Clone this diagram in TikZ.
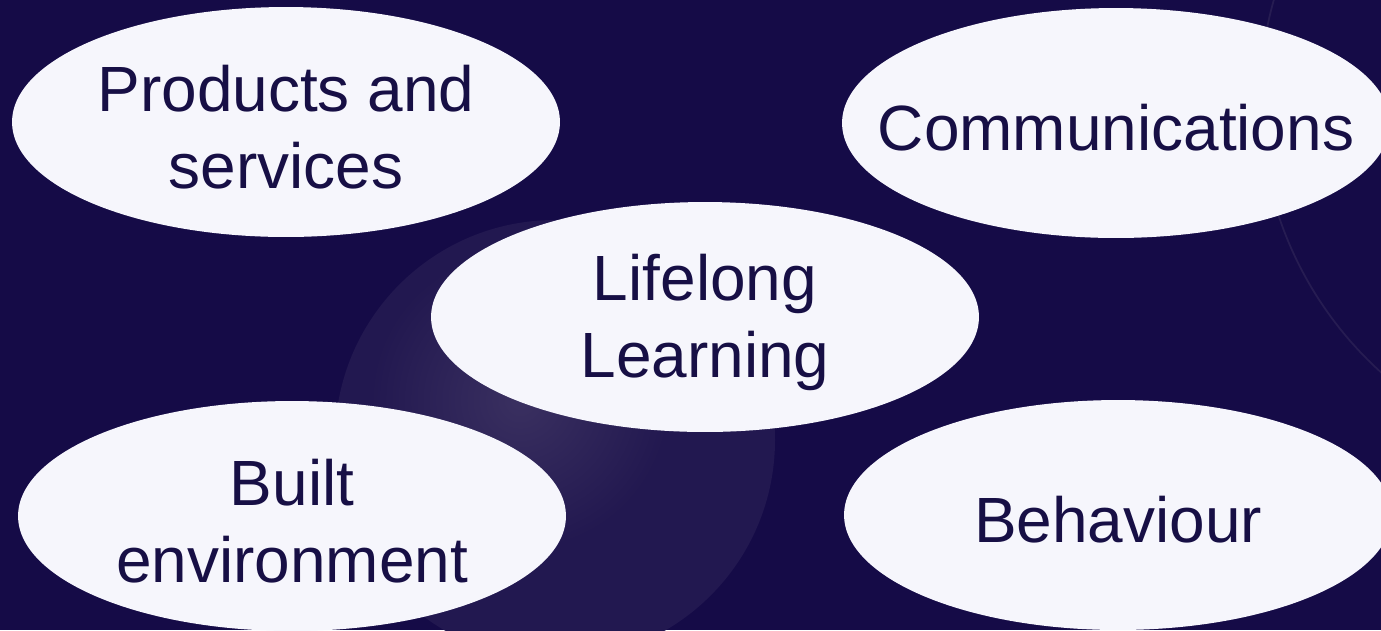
\documentclass[tikz,border=0pt]{standalone}
\usepackage{fontspec}
\setmainfont{Liberation Sans}
\usetikzlibrary{shapes.geometric}
\definecolor{nightbg}{HTML}{150B47}
\definecolor{bubblefill}{HTML}{F6F6FC}
\definecolor{inktext}{HTML}{170F45}
\definecolor{glowpurple}{HTML}{3A3060}

\begin{document}
\begin{tikzpicture}[
    x=0.02cm, y=-0.02cm,
    bubble/.style={ellipse, fill=bubblefill, minimum width=10.96cm, minimum height=4.6cm, inner sep=0pt},
    txt/.style={align=center, text=inktext, yshift=-0.1cm, font=\fontsize{36.4}{43.8}\selectfont}
]
    \clip (0,0) rectangle (1381,630);
    \fill[nightbg] (0,0) rectangle (1381,630);
    % faint glow behind the centre
    \fill[glowpurple!35!nightbg] (555,440) circle (220);
    \shade[inner color=glowpurple, outer color=glowpurple!35!nightbg] (520,400) circle (150);
    \draw[glowpurple!45!nightbg, line width=1pt] (1627,100) circle (367);

    \node[bubble, label={[txt]center:{Products and\\services}}] (products) at (286,122) {};
    \node[bubble, label={[txt]center:Communications}] (comms) at (1116,123) {};
    \node[bubble, label={[txt]center:{Lifelong\\Learning}}] (lifelong) at (705,317) {};
    \node[bubble, label={[txt]center:{Built\\environment}}] (built) at (292,516) {};
    \node[bubble, label={[txt]center:Behaviour}] (behaviour) at (1118,515) {};
\end{tikzpicture}
\end{document}
